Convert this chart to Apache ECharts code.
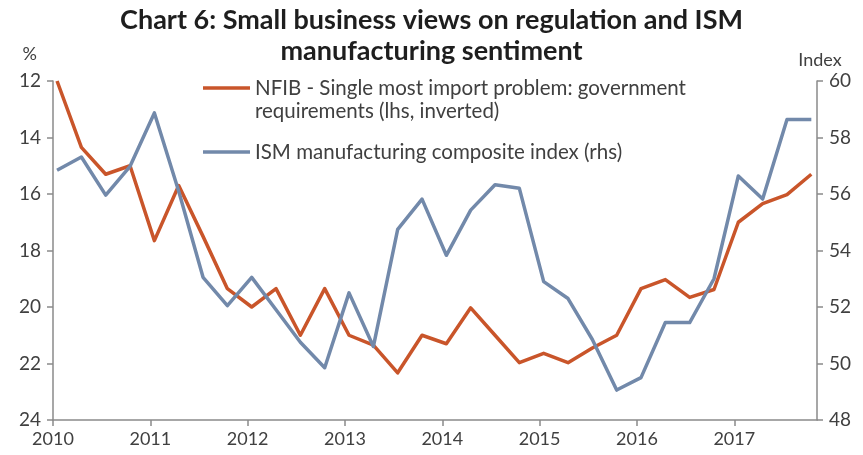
<!DOCTYPE html>
<html>
<head>
<meta charset="utf-8">
<title>Chart 6: Small business views on regulation and ISM manufacturing sentiment</title>
<script src="https://cdn.jsdelivr.net/npm/echarts@6/dist/echarts.min.js"></script>
<style>
  html, body { margin: 0; padding: 0; background: #ffffff; }
  #chart { width: 863px; height: 455px; }
</style>
</head>
<body>
<div id="chart"></div>
<script>
// Quarterly observations, 2010 Q1 - 2017 Q4
const quarters = [
  '2010 Q1', '2010 Q2', '2010 Q3', '2010 Q4',
  '2011 Q1', '2011 Q2', '2011 Q3', '2011 Q4',
  '2012 Q1', '2012 Q2', '2012 Q3', '2012 Q4',
  '2013 Q1', '2013 Q2', '2013 Q3', '2013 Q4',
  '2014 Q1', '2014 Q2', '2014 Q3', '2014 Q4',
  '2015 Q1', '2015 Q2', '2015 Q3', '2015 Q4',
  '2016 Q1', '2016 Q2', '2016 Q3', '2016 Q4',
  '2017 Q1', '2017 Q2', '2017 Q3', '2017 Q4'
];

// NFIB: share citing government requirements as single most important problem (%)
const nfibGovRequirements = [
  12.0, 14.35, 15.3, 15.0,
  17.65, 15.7, 17.5, 19.35,
  20.0, 19.35, 21.0, 19.35,
  21.0, 21.35, 22.33, 21.0,
  21.3, 20.03, 21.0, 21.97,
  21.64, 21.97, 21.45, 21.0,
  19.35, 19.03, 19.66, 19.38,
  17.0, 16.34, 16.02, 15.3
];

// ISM manufacturing composite index
const ismComposite = [
  56.84, 57.31, 55.96, 56.98,
  58.87, 56.1, 53.05, 52.05,
  53.05, 51.9, 50.75, 49.85,
  52.5, 50.6, 54.75, 55.82,
  53.83, 55.43, 56.33, 56.2,
  52.9, 52.3, 50.85, 49.06,
  49.5, 51.45, 51.45, 53.0,
  56.64, 55.82, 58.64, 58.64
];

// Year tick labels on the time axis
const yearTicks = [2010, 2011, 2012, 2013, 2014, 2015, 2016, 2017];

const nfibName = 'NFIB - Single most import problem: government\nrequirements (lhs, inverted)';
const ismName = 'ISM manufacturing composite index (rhs)';

// Each quarter is placed at the middle of its first month, in decimal years
function quarterPosition(label) {
  const parts = label.split(' Q');
  return Number(parts[0]) + (Number(parts[1]) - 1) / 4 + 1 / 24;
}

function pairUp(values) {
  return quarters.map((q, i) => [quarterPosition(q), values[i]]);
}

const FONT = 'Lato';
const TEXT = '#404040';
const AXIS = '#8a8a8a';
const ORANGE = '#c9552a';
const BLUE = '#7289aa';

const chart = echarts.init(document.getElementById('chart'), null, { renderer: 'canvas' });

const legendCommon = {
  left: 203,
  padding: 0,
  icon: 'rect',
  itemWidth: 47,
  itemHeight: 3.5,
  selectedMode: false,
  textStyle: { fontFamily: FONT, fontSize: 20.5, lineHeight: 23, color: TEXT }
};

chart.setOption({
  animation: false,
  backgroundColor: '#ffffff',
  textStyle: { fontFamily: FONT },
  title: {
    text: 'Chart 6: Small business views on regulation and ISM\nmanufacturing sentiment',
    left: 'center',
    top: 0,
    textStyle: {
      fontFamily: FONT,
      fontWeight: 'bold',
      fontSize: 27,
      lineHeight: 31,
      color: '#1e1e1e'
    }
  },
  legend: [
    Object.assign({}, legendCommon, {
      data: [nfibName],
      top: 53.5,
      // a blank first line keeps the key level with the first line of the label
      formatter: name => ' \n' + name
    }),
    Object.assign({}, legendCommon, {
      data: [ismName],
      top: 140.5
    })
  ],
  grid: { left: 53, right: 46, top: 81, bottom: 35, containLabel: false },
  xAxis: {
    type: 'value',
    min: 2010,
    max: 2017.85,
    interval: 1,
    axisLine: { show: true, lineStyle: { color: AXIS, width: 1.5 } },
    axisTick: { show: true, length: 6, lineStyle: { color: AXIS, width: 1.5 }, customValues: yearTicks },
    axisLabel: {
      customValues: yearTicks,
      formatter: v => String(v),
      fontFamily: FONT, fontSize: 18, color: TEXT, margin: 10
    },
    splitLine: { show: false }
  },
  yAxis: [
    {
      type: 'value',
      inverse: true,
      min: 12,
      max: 24,
      interval: 2,
      position: 'left',
      name: '%',
      nameLocation: 'start',
      nameGap: 18,
      nameTextStyle: { fontFamily: FONT, fontSize: 18, color: TEXT, align: 'right', padding: [0, 16, 0, 0] },
      axisLine: { show: true, lineStyle: { color: AXIS, width: 1.5 } },
      axisTick: { show: true, inside: false, length: 6, lineStyle: { color: AXIS, width: 1.5 } },
      axisLabel: { fontFamily: FONT, fontSize: 19, color: TEXT, margin: 12 },
      splitLine: { show: false }
    },
    {
      type: 'value',
      min: 48,
      max: 60,
      interval: 2,
      position: 'right',
      name: 'Index',
      nameLocation: 'end',
      nameGap: 12,
      nameTextStyle: { fontFamily: FONT, fontSize: 18, color: TEXT, align: 'center', padding: [0, 0, 0, 6] },
      axisLine: { show: true, lineStyle: { color: AXIS, width: 1.5 } },
      axisTick: { show: true, inside: false, length: 6, lineStyle: { color: AXIS, width: 1.5 } },
      axisLabel: { fontFamily: FONT, fontSize: 19, color: TEXT, margin: 12 },
      splitLine: { show: false }
    }
  ],
  series: [
    {
      name: nfibName,
      type: 'line',
      yAxisIndex: 0,
      data: pairUp(nfibGovRequirements),
      showSymbol: false,
      symbol: 'none',
      color: ORANGE,
      lineStyle: { color: ORANGE, width: 3.5, join: 'round' }
    },
    {
      name: ismName,
      type: 'line',
      yAxisIndex: 1,
      data: pairUp(ismComposite),
      showSymbol: false,
      symbol: 'none',
      color: BLUE,
      lineStyle: { color: BLUE, width: 3.5, join: 'round' }
    }
  ]
});
</script>
</body>
</html>
